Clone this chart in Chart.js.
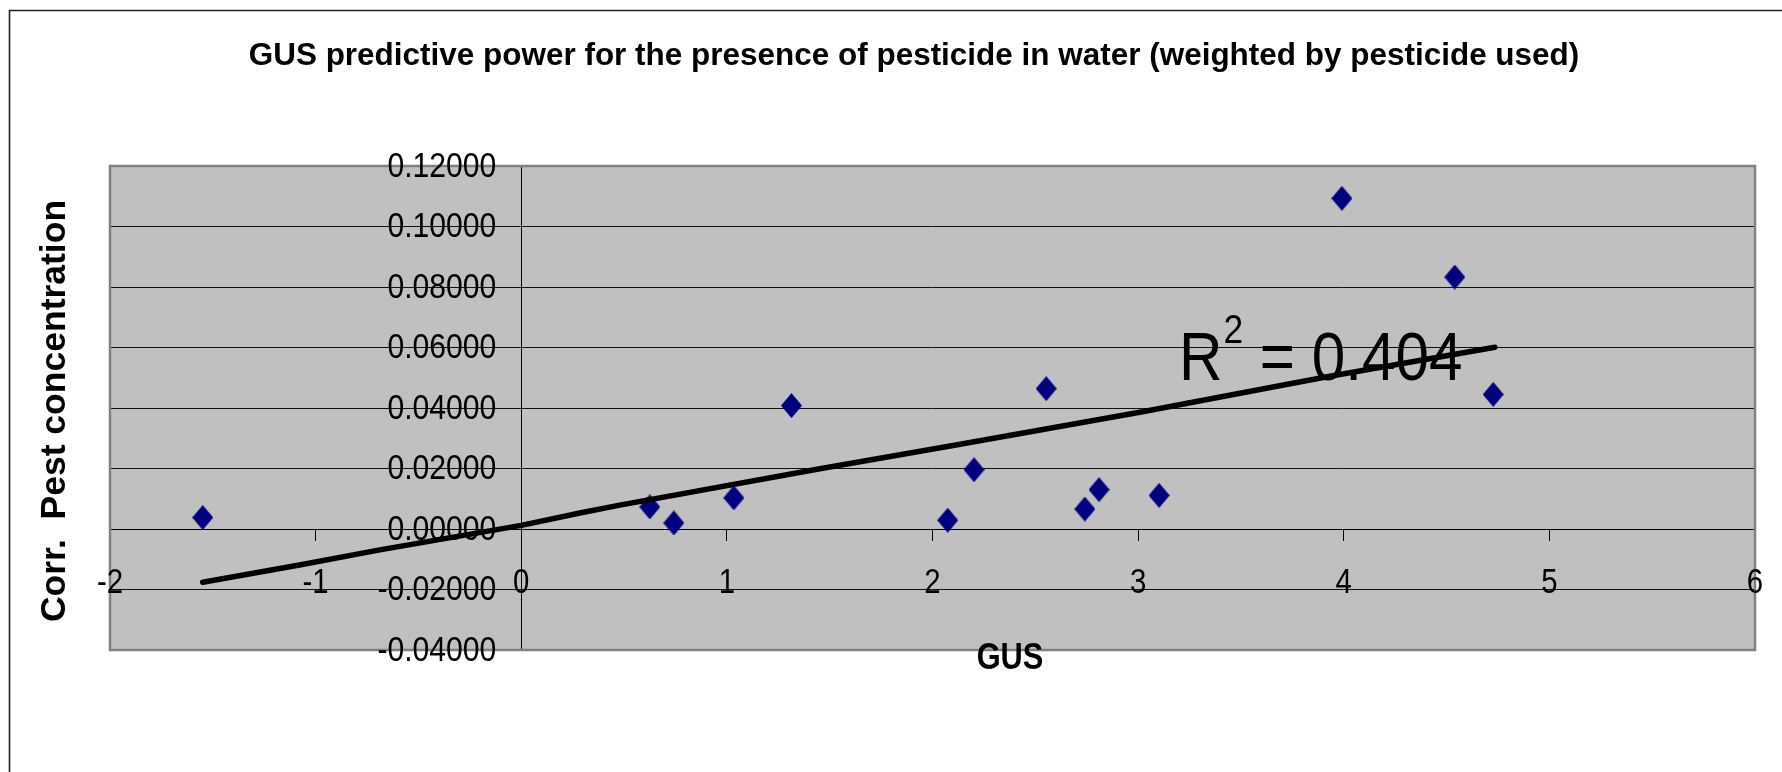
<!DOCTYPE html>
<html>
<head>
<meta charset="utf-8">
<title>GUS predictive power</title>
<script src="https://cdn.jsdelivr.net/npm/chart.js@4.4.1/dist/chart.umd.min.js"></script>
<style>
  html, body { margin: 0; padding: 0; background: #fff; }
  canvas { display: block; }
</style>
</head>
<body>
<canvas id="gusChart" width="1782" height="772"></canvas>
<script>
// observed pesticides: GUS index vs corrected concentration
const gusValues  = [-1.549, 0.625, 0.742, 1.034, 1.314, 2.074, 2.202, 2.553, 2.741, 2.810, 3.102, 3.991, 4.540, 4.727];
const concValues = [0.0038, 0.0073, 0.0020, 0.0103, 0.0408, 0.0029, 0.0196, 0.0464, 0.0066, 0.0130, 0.0111, 0.1093, 0.0833, 0.0445];

// trend line
const trendGus  = [-1.549, -1.072, -0.688, 0.0, 0.285, 0.479, 1.452, 2.100, 3.008, 3.932, 4.735];
const trendConc = [-0.0176, -0.0118, -0.0069, 0.0012, 0.0053, 0.0079, 0.0199, 0.0276, 0.0386, 0.0505, 0.0601];

const xTickLabels = ['-2', '-1', '0', '1', '2', '3', '4', '5', '6'];
const yTickLabels = ['-0.04000', '-0.02000', '0.00000', '0.02000', '0.04000', '0.06000', '0.08000', '0.10000', '0.12000'];

const chartTitle = 'GUS predictive power for the presence of pesticide in water (weighted by pesticide used)';
const xAxisTitle = 'GUS';
const yAxisTitle = 'Corr.  Pest concentration';
const rSquared = '0.404';

const FONT = "'Liberation Sans', Arial, sans-serif";

// navy diamond marker, a little taller than wide like the original
function diamond(w, h, color) {
    const c = document.createElement('canvas');
    c.width = w; c.height = h;
    const g = c.getContext('2d');
    g.fillStyle = color;
    g.beginPath();
    g.moveTo(w / 2, 0);
    g.lineTo(w, h / 2);
    g.lineTo(w / 2, h);
    g.lineTo(0, h / 2);
    g.closePath();
    g.fill();
    return c;
}
const marker = diamond(21, 25, '#000080');

// the original text is horizontally condensed (Arial Narrow look)
function squeezedText(ctx, text, x, y, align, font, sx) {
    ctx.save();
    ctx.translate(x, y);
    ctx.scale(sx, 1);
    ctx.font = font;
    ctx.textAlign = align;
    ctx.textBaseline = 'alphabetic';
    ctx.fillText(text, 0, 0);
    ctx.restore();
}

const framePlugin = {
    id: 'frame',
    beforeDraw(chart) {
        const ctx = chart.ctx;
        const a = chart.chartArea;
        ctx.save();
        ctx.fillStyle = '#fff';
        ctx.fillRect(0, 0, chart.width, chart.height);
        ctx.strokeStyle = '#222';
        ctx.lineWidth = 1.6;
        ctx.beginPath();
        ctx.moveTo(9.5, chart.height);
        ctx.lineTo(9.5, 10.5);
        ctx.lineTo(chart.width, 10.5);
        ctx.stroke();
        ctx.fillStyle = '#c0c0c0';
        ctx.fillRect(a.left, a.top, a.right - a.left, a.bottom - a.top);
        ctx.restore();
    },
    beforeDatasetsDraw(chart) {
        const ctx = chart.ctx;
        const a = chart.chartArea;
        ctx.save();
        ctx.strokeStyle = '#808080';
        ctx.lineWidth = 2.5;
        ctx.strokeRect(a.left, a.top, a.right - a.left, a.bottom - a.top);
        ctx.restore();
    },
    afterDraw(chart) {
        const ctx = chart.ctx;
        const xs = chart.scales.x;
        const ys = chart.scales.y;
        const axisX = xs.getPixelForValue(0);
        const axisY = ys.getPixelForValue(0);
        ctx.save();
        ctx.fillStyle = '#000';

        // tick labels, placed from the library's scales
        ys.ticks.forEach((t, i) => {
            const label = yTickLabels[i] ?? t.value.toFixed(5);
            squeezedText(ctx, label, axisX - 25, ys.getPixelForValue(t.value) + 10.5, 'right', '35px ' + FONT, 0.86);
        });
        xs.ticks.forEach((t, i) => {
            const label = xTickLabels[i] ?? String(t.value);
            squeezedText(ctx, label, xs.getPixelForValue(t.value), axisY + 63.5, 'center', '35px ' + FONT, 0.84);
        });

        squeezedText(ctx, chartTitle, 914, 65, 'center', 'bold 31px ' + FONT, 1.015);
        squeezedText(ctx, xAxisTitle, 1010, 669, 'center', 'bold 36px ' + FONT, 0.855);

        ctx.save();
        ctx.translate(65, 411);
        ctx.rotate(-Math.PI / 2);
        ctx.font = 'bold 35.5px ' + FONT;
        ctx.textAlign = 'center';
        ctx.fillText(yAxisTitle, 0, 0);
        ctx.restore();

        // R² label
        ctx.save();
        ctx.translate(1179, 380);
        ctx.scale(0.886, 1);
        ctx.textAlign = 'left';
        ctx.textBaseline = 'alphabetic';
        ctx.font = '68px ' + FONT;
        ctx.fillText('R', 0, 0);
        let x = ctx.measureText('R').width + 1;
        ctx.font = '40px ' + FONT;
        ctx.fillText('2', x, -37);
        x += ctx.measureText('2').width;
        ctx.font = '68px ' + FONT;
        ctx.fillText(' = ' + rSquared, x, 0);
        ctx.restore();

        ctx.restore();
    }
};

new Chart(document.getElementById('gusChart'), {
    type: 'scatter',
    data: {
        datasets: [
            {
                label: 'Pesticides',
                data: gusValues.map((g, i) => ({ x: g, y: concValues[i] })),
                pointStyle: marker,
                pointRadius: 12,
                showLine: false,
                order: 2
            },
            {
                label: 'Trend',
                data: trendGus.map((g, i) => ({ x: g, y: trendConc[i] })),
                showLine: true,
                borderColor: '#000',
                borderWidth: 5.5,
                pointRadius: 0,
                tension: 0,
                borderCapStyle: 'round',
                borderJoinStyle: 'round',
                order: 1
            }
        ]
    },
    options: {
        responsive: false,
        animation: false,
        events: [],
        layout: {
            padding: { left: 110, top: 166, right: 27, bottom: 122 }
        },
        plugins: {
            legend: { display: false },
            title: { display: false },
            tooltip: { enabled: false }
        },
        scales: {
            x: {
                type: 'linear',
                position: { y: 0 },
                min: -2,
                max: 6,
                ticks: { stepSize: 1, autoSkip: false, display: false },
                grid: {
                    drawOnChartArea: false,
                    drawTicks: true,
                    tickLength: 11,
                    color: '#000'
                },
                border: { display: true, color: '#000', width: 1 }
            },
            y: {
                type: 'linear',
                position: { x: 0 },
                min: -0.04,
                max: 0.12,
                ticks: { stepSize: 0.02, autoSkip: false, display: false },
                grid: {
                    color: '#111',
                    lineWidth: 1,
                    drawTicks: true,
                    tickLength: 10
                },
                border: { display: true, color: '#000', width: 1 }
            }
        }
    },
    plugins: [framePlugin]
});
</script>
</body>
</html>
